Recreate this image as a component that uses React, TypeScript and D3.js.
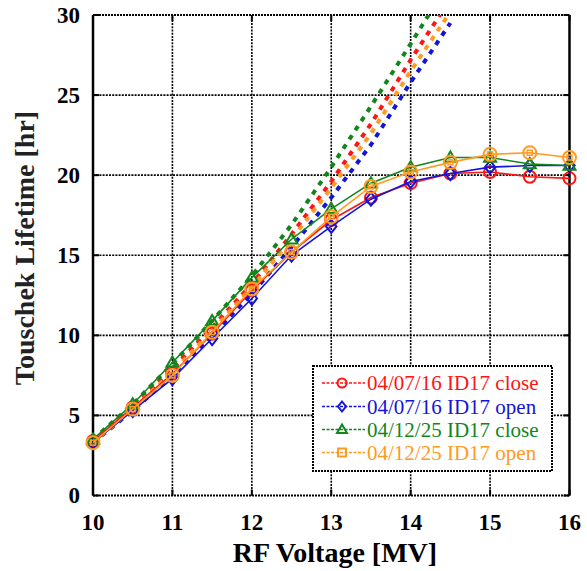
import React from "react";
import * as d3 from "d3";

const W = 587;
const H = 571;

const xTicks = [10, 11, 12, 13, 14, 15, 16];
const yTicks = [0, 5, 10, 15, 20, 25, 30];

// measured voltages
const measV = [10, 10.5, 11, 11.5, 12, 12.5, 13, 13.5, 14, 14.5, 15, 15.5, 16];
const redMeas = [3.4, 5.5, 7.6, 10.1, 12.8, 15.2, 17.2, 18.6, 19.5, 20.1, 20.2, 19.9, 19.8];
const blueMeas = [3.3, 5.3, 7.3, 9.8, 12.3, 15.0, 16.8, 18.5, 19.6, 20.1, 20.5, 20.6, 20.6];
const greenMeas = [3.5, 5.7, 8.3, 10.9, 13.6, 16.0, 17.9, 19.5, 20.5, 21.1, 21.1, 20.7, 20.6];
const orangeMeas = [3.3, 5.4, 7.5, 10.2, 12.9, 15.2, 17.4, 19.3, 20.2, 20.8, 21.3, 21.4, 21.1];

// calculated voltages (dashed)
const calcV = [10, 10.5, 11, 11.5, 12, 12.5, 13, 13.5, 14, 14.5];
const redCalc = [3.4, 5.6, 7.9, 10.5, 13.2, 16.3, 19.6, 23.2, 27.2, 31.0];
const blueCalc = [3.3, 5.3, 7.5, 10.0, 12.6, 15.5, 18.6, 21.9, 25.8, 29.5];
const greenCalc = [3.5, 5.7, 8.2, 10.9, 13.7, 16.9, 20.5, 24.3, 28.2, 32.2];
const orangeCalc = [3.3, 5.4, 7.7, 10.3, 13.0, 16.0, 19.2, 22.6, 26.5, 30.2];

const seriesNames = [
  "04/07/16 ID17 close",
  "04/07/16 ID17 open",
  "04/12/25 ID17 close",
  "04/12/25 ID17 open",
];
const seriesColors = ["#ff1414", "#1414d8", "#12861c", "#ff9a22"];
const seriesMarkers = ["circle", "diamond", "triangle", "square"];
const measData = [redMeas, blueMeas, greenMeas, orangeMeas];
const calcData = [redCalc, blueCalc, greenCalc, orangeCalc];

const FONT = '"Liberation Serif", "DejaVu Serif", serif';
const tStyle = { fontFamily: FONT };

function Marker({ kind, x, y, color, legend }: { kind: string; x: number; y: number; color: string; legend?: boolean }) {
  const sw = 2;
  if (kind === "circle") {
    const r = legend ? 4.5 : 6;
    return <circle cx={x} cy={y} r={r} fill="none" stroke={color} strokeWidth={sw} />;
  }
  if (kind === "diamond") {
    const s = legend ? 5 : 6.5;
    return (
      <path
        d={`M${x},${y - s}L${x + s * 0.8},${y}L${x},${y + s}L${x - s * 0.8},${y}Z`}
        fill="none"
        stroke={color}
        strokeWidth={sw}
      />
    );
  }
  if (kind === "triangle") {
    const s = legend ? 5 : 6;
    return (
      <path
        d={`M${x},${y - s}L${x + s},${y + s * 0.7}L${x - s},${y + s * 0.7}Z`}
        fill="none"
        stroke={color}
        strokeWidth={sw}
      />
    );
  }
  if (legend) {
    return <rect x={x - 4} y={y - 4} width={8} height={8} fill="none" stroke={color} strokeWidth={sw} />;
  }
  return (
    <g>
      <circle cx={x} cy={y} r={6.5} fill="none" stroke={color} strokeWidth={sw} />
      <rect x={x - 2.5} y={y - 2.5} width={5} height={5} fill="none" stroke={color} strokeWidth={1.5} />
    </g>
  );
}

export default function App() {
  const x = d3.scaleLinear().domain([10, 16]).range([93, 569.5]);
  const y = d3.scaleLinear().domain([0, 30]).range([495.5, 15]);

  const line = (xs: number[], ys: number[]) =>
    d3
      .line<number>()
      .x((_, i) => x(xs[i]))
      .y((d) => y(d))(ys) || "";

  const gridStyle = { stroke: "#000", strokeWidth: 1.6, strokeDasharray: "2,1.2" };

  const legX = 313;
  const legY = 366;
  const legW = 239;
  const legH = 105;
  const legRows = [383, 406.5, 429.5, 452.5];

  return (
    <svg width={W} height={H} style={{ position: "absolute", left: 0, top: 0, background: "#fff" }}>
      <defs>
        <clipPath id="plotclip">
          <rect x={x(10)} y={y(30)} width={x(16) - x(10)} height={y(0) - y(30)} />
        </clipPath>
      </defs>
      <rect width={W} height={H} fill="#fff" />

      {xTicks.slice(1, -1).map((t) => (
        <line key={"gx" + t} x1={x(t)} x2={x(t)} y1={y(0)} y2={y(30)} {...gridStyle} />
      ))}
      {yTicks.slice(1, -1).map((t) => (
        <line key={"gy" + t} x1={x(10)} x2={x(16)} y1={y(t)} y2={y(t)} {...gridStyle} />
      ))}
      <line x1={x(10)} x2={x(16)} y1={y(30)} y2={y(30)} stroke="#000" strokeWidth={2.2} strokeDasharray="2,1" />
      <line x1={x(10)} x2={x(16)} y1={y(0)} y2={y(0)} stroke="#000" strokeWidth={2.2} strokeDasharray="2,1" />
      <line x1={x(10)} x2={x(10)} y1={y(0)} y2={y(30)} stroke="#000" strokeWidth={2.5} />
      <line x1={x(16)} x2={x(16)} y1={y(0)} y2={y(30)} stroke="#000" strokeWidth={2.5} />
      {xTicks.map((t) => (
        <g key={"tx" + t}>
          <line x1={x(t)} x2={x(t)} y1={y(0)} y2={y(0) - 6} stroke="#000" strokeWidth={2} />
          <line x1={x(t)} x2={x(t)} y1={y(30)} y2={y(30) + 6} stroke="#000" strokeWidth={2} />
        </g>
      ))}
      {yTicks.map((t) => (
        <g key={"ty" + t}>
          <line x1={x(10)} x2={x(10) + 6} y1={y(t)} y2={y(t)} stroke="#000" strokeWidth={2} />
          <line x1={x(16)} x2={x(16) - 6} y1={y(t)} y2={y(t)} stroke="#000" strokeWidth={2} />
        </g>
      ))}

      <g clipPath="url(#plotclip)">
        {calcData.map((ys, i) => (
          <path
            key={"c" + i}
            d={line(calcV, ys)}
            fill="none"
            stroke={seriesColors[i]}
            strokeWidth={4}
            strokeDasharray="5,6"
          />
        ))}
      </g>

      {measData.map((ys, i) => (
        <g key={"m" + i}>
          <path d={line(measV, ys)} fill="none" stroke={seriesColors[i]} strokeWidth={1.6} />
          {ys.map((v, j) => (
            <Marker key={j} kind={seriesMarkers[i]} x={x(measV[j])} y={y(v)} color={seriesColors[i]} />
          ))}
        </g>
      ))}

      {xTicks.map((t) => (
        <text key={"lx" + t} x={x(t)} y={530} textAnchor="middle" fontSize={23} fontWeight="bold" style={tStyle}>
          {t}
        </text>
      ))}
      {yTicks.map((t) => (
        <text key={"ly" + t} x={80} y={y(t) + 7.5} textAnchor="end" fontSize={23} fontWeight="bold" style={tStyle}>
          {t}
        </text>
      ))}

      <text x={335} y={562} textAnchor="middle" fontSize={28} fontWeight="bold" style={tStyle}>
        RF Voltage [MV]
      </text>
      <text
        transform={`translate(34,248) rotate(-90)`}
        textAnchor="middle"
        fontSize={28}
        fontWeight="bold"
        fill="#222"
        style={tStyle}
      >
        Touschek Lifetime [hr]
      </text>

      <rect x={legX} y={legY} width={legW} height={legH} fill="#fff" stroke="#000" strokeWidth={2} strokeDasharray="2,1" />
      {seriesNames.map((name, i) => (
        <g key={"leg" + i}>
          <line
            x1={322}
            x2={365}
            y1={legRows[i]}
            y2={legRows[i]}
            stroke={seriesColors[i]}
            strokeWidth={1.6}
            strokeDasharray="3,1.5"
          />
          <Marker kind={seriesMarkers[i]} x={342} y={legRows[i]} color={seriesColors[i]} legend />
          <text x={367} y={legRows[i] + 7} fontSize={21} fill={seriesColors[i]} style={tStyle}>
            {name}
          </text>
        </g>
      ))}
    </svg>
  );
}
